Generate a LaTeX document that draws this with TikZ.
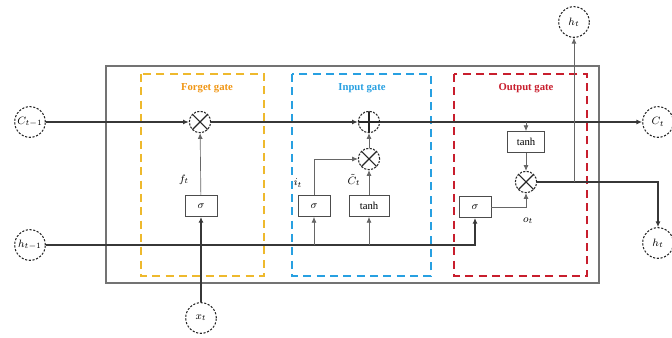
\documentclass[tikz,border=0pt]{standalone}
\usepackage{fontspec}
\setmainfont{Liberation Serif}
\usetikzlibrary{arrows.meta,positioning,calc}
\definecolor{frame}{RGB}{115,115,115}
\definecolor{wirecol}{RGB}{55,55,55}
\definecolor{gold}{RGB}{238,185,45}
\definecolor{amber}{RGB}{240,150,20}
\definecolor{sea}{RGB}{40,160,225}
\definecolor{crimson}{RGB}{200,30,45}
\tikzset{
  >={Latex[length=1.5mm,width=1.3mm]},
  port/.style={circle,draw=black!85,dash pattern=on 1.6pt off 1.2pt,thick,
    minimum size=23pt,inner sep=0pt,font=\footnotesize},
  actbox/.style={draw=black!70,fill=white,minimum width=24pt,minimum height=16pt,
    inner sep=1pt,font=\footnotesize},
  op/.style={circle,draw=black!85,dash pattern=on 1.6pt off 1pt,thick,
    minimum size=16pt,inner sep=0pt,fill=white},
  mulnode/.style={op,path picture={\draw[solid,black!85,thick]
    (path picture bounding box.north west) -- (path picture bounding box.south east)
    (path picture bounding box.north east) -- (path picture bounding box.south west);}},
  addnode/.style={op,path picture={\draw[solid,black!85,thick]
    (path picture bounding box.north) -- (path picture bounding box.south)
    (path picture bounding box.west) -- (path picture bounding box.east);}},
  gatebox/.style={draw=#1,thick,dash pattern=on 6pt off 4pt},
  gatetitle/.style={font=\footnotesize\bfseries,text=#1},
  wire/.style={draw=wirecol,line width=0.9pt},
  tap/.style={->,draw=black!60,line width=0.5pt},
  tag/.style={font=\footnotesize,inner sep=1pt},
}
\begin{document}
\begin{tikzpicture}[x=0.75pt,y=-0.75pt]
  \useasboundingbox (0,0) rectangle (672,338);
  % cell frame and gates
  \draw[frame,line width=1pt] (106,66) rectangle (599,283);
  \draw[gatebox=gold] (141,74) rectangle (264,276);
  \draw[gatebox=sea] (292,74) rectangle (431,276);
  \draw[gatebox=crimson] (454,74) rectangle (587,276);
  \node[gatetitle=amber] (fgt) at (207,88) {Forget gate};
  \node[gatetitle=sea] (igt) at (362,88) {Input gate};
  \node[gatetitle=crimson] (ogt) at (526,88) {Output gate};
  % inputs and outputs
  \node[port] (cp) at (30,122) {$C_{t-1}$};
  \node[port] (hp) at (30,245) {$h_{t-1}$};
  \node[port] (xt) at (201,318) {$x_t$};
  \node[port] (htop) at (574,22) {$h_t$};
  \node[port] (ct) at (658,122) {$C_t$};
  \node[port] (hr) at (658,243) {$h_t$};
  % forget gate
  \node[mulnode] (fx) at (200,122) {};
  \node[actbox] (fs) at (201,206) {$\sigma$};
  \node[tag] (ft) at (184,180) {$f_t$};
  % input gate
  \node[addnode] (ip) at (369,122) {};
  \node[mulnode] (ix) at (369,159) {};
  \node[actbox] (is) at (314,206) {$\sigma$};
  \node[actbox,minimum width=30pt] (it) at (369,206) {tanh};
  \node[tag] (il) at (298,183) {$i_t$};
  \node[tag] (cl) at (354,180) {$\tilde{C}_t$};
  % output gate
  \node[actbox,minimum width=28pt] (ot) at (526,142) {tanh};
  \node[mulnode] (ox) at (526,182) {};
  \node[actbox] (os) at (475,207) {$\sigma$};
  \node[tag] (ol) at (528,221) {$o_t$};
  % cell state
  \draw[wire,->] (cp) -- (fx);
  \draw[wire,->] (fx) -- (ip);
  \draw[wire,->] (ip) -- (ct);
  \draw[tap] (ot |- ct) -- (ot);
  % hidden state and input
  \draw[wire,->] (hp) -| (os);
  \draw[wire,->] (xt) -- (fs);
  \draw[tap] (is |- hp) -- (is);
  \draw[tap] (it |- hp) -- (it);
  \draw[tap] (fs) -- (fx);
  \draw[tap] (is) |- (ix);
  \draw[tap] (it) -- (ix);
  \draw[tap] (ix) -- (ip);
  \draw[tap] (ot) -- (ox);
  \draw[tap] (os) -| (ox);
  \draw[wire,->] (ox) -| (hr);
  \draw[tap] (htop |- ox) -- (htop);
\end{tikzpicture}
\end{document}
